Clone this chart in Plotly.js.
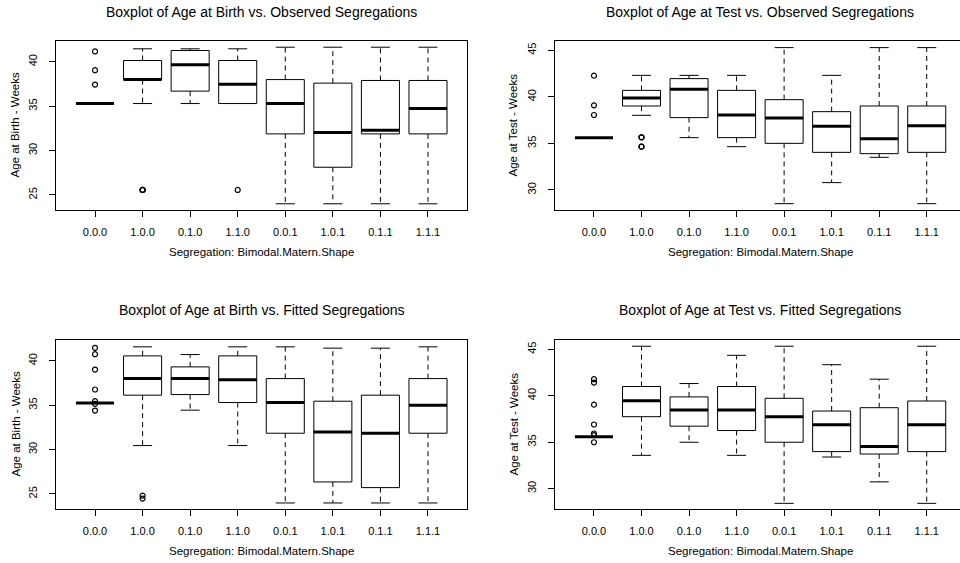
<!DOCTYPE html>
<html>
<head>
<meta charset="utf-8">
<script src="https://cdn.plot.ly/plotly-3.0.1.min.js"></script>
<style>html,body{margin:0;padding:0;background:#fff;}#chart{width:960px;height:563px;}</style>
</head>
<body>
<div id="chart"></div>
<script>
// ---------- data ----------
const categories = ['0.0.0','1.0.0','0.1.0','1.1.0','0.0.1','1.0.1','0.1.1','1.1.1'];

const titles = [
  'Boxplot of Age at Birth vs. Observed Segregations',
  'Boxplot of Age at Test vs. Observed Segregations',
  'Boxplot of Age at Birth vs. Fitted Segregations',
  'Boxplot of Age at Test vs. Fitted Segregations'
];
const xTitle = 'Segregation: Bimodal.Matern.Shape';
const yTitles = ['Age at Birth - Weeks','Age at Test - Weeks','Age at Birth - Weeks','Age at Test - Weeks'];

// Panel 1: Age at Birth vs Observed
const birthObsLower  = [35.30, 35.30, 35.30, 35.30, 24.00, 24.00, 24.00, 24.00];
const birthObsQ1     = [35.30, 38.00, 36.70, 35.30, 31.88, 28.12, 31.88, 31.88];
const birthObsMedian = [35.30, 38.00, 39.66, 37.48, 35.30, 32.03, 32.30, 34.74];
const birthObsQ3     = [35.30, 40.15, 41.28, 40.15, 38.00, 37.60, 37.90, 37.90];
const birthObsUpper  = [35.30, 41.47, 41.47, 41.47, 41.65, 41.65, 41.65, 41.65];
const birthObsOutCat = ['0.0.0','0.0.0','0.0.0','1.0.0','1.0.0','1.0.0','1.1.0'];
const birthObsOutVal = [41.17, 39.06, 37.44, 25.56, 25.56, 25.56, 25.56];

// Panel 2: Age at Test vs Observed
const testObsLower  = [35.62, 38.02, 35.62, 34.65, 28.53, 30.79, 33.51, 28.53];
const testObsQ1     = [35.62, 39.02, 37.77, 35.62, 35.01, 34.04, 33.90, 34.04];
const testObsMedian = [35.62, 39.88, 40.81, 38.05, 37.73, 36.84, 35.51, 36.91];
const testObsQ3     = [35.62, 40.70, 41.96, 40.70, 39.70, 38.41, 39.02, 39.02];
const testObsUpper  = [35.62, 42.31, 42.31, 42.31, 45.29, 42.31, 45.29, 45.29];
const testObsOutCat = ['0.0.0','0.0.0','0.0.0','1.0.0','1.0.0','1.0.0','1.0.0'];
const testObsOutVal = [42.28, 39.09, 38.05, 35.66, 35.66, 34.65, 34.65];

// Panel 3: Age at Birth vs Fitted
const birthFitLower  = [35.26, 30.45, 34.44, 30.45, 23.98, 23.98, 23.98, 23.98];
const birthFitQ1     = [35.26, 36.13, 36.20, 35.30, 31.84, 26.35, 25.71, 31.84];
const birthFitMedian = [35.26, 38.00, 38.00, 37.86, 35.30, 31.99, 31.84, 35.00];
const birthFitQ3     = [35.26, 40.56, 39.32, 40.56, 38.00, 35.45, 36.13, 38.00];
const birthFitUpper  = [35.26, 41.58, 40.71, 41.58, 41.58, 41.43, 41.43, 41.58];
const birthFitOutCat = ['0.0.0','0.0.0','0.0.0','0.0.0','0.0.0','0.0.0','0.0.0','1.0.0','1.0.0'];
const birthFitOutVal = [41.47, 40.75, 39.02, 36.77, 35.45, 35.15, 34.40, 24.81, 24.47];

// Panel 4: Age at Test vs Fitted
const testFitLower  = [35.57, 33.58, 34.99, 33.58, 28.41, 33.40, 30.72, 28.41];
const testFitQ1     = [35.57, 37.74, 36.72, 36.25, 34.99, 33.98, 33.72, 33.98];
const testFitMedian = [35.57, 39.47, 38.46, 38.46, 37.74, 36.87, 34.52, 36.87];
const testFitQ3     = [35.57, 40.99, 39.87, 40.99, 39.72, 38.35, 38.71, 39.43];
const testFitUpper  = [35.57, 45.33, 41.31, 44.35, 45.33, 43.34, 41.78, 45.33];
const testFitOutCat = ['0.0.0','0.0.0','0.0.0','0.0.0','0.0.0','0.0.0','0.0.0'];
const testFitOutVal = [41.78, 41.42, 39.04, 36.90, 35.93, 35.75, 34.99];

const birthTicks = [25, 30, 35, 40];
const testTicks  = [30, 35, 40, 45];

// ---------- build ----------
const FONT = 'Liberation Sans, Arial, Helvetica, sans-serif';
const BOXW = 0.8, CAPW = 0.4;
const pos = categories.map((_, i) => i + 1);
const catPos = c => categories.indexOf(c) + 1;

const panels = [
  {lo: birthObsLower, q1: birthObsQ1, med: birthObsMedian, q3: birthObsQ3, up: birthObsUpper, oc: birthObsOutCat, ov: birthObsOutVal},
  {lo: testObsLower,  q1: testObsQ1,  med: testObsMedian,  q3: testObsQ3,  up: testObsUpper,  oc: testObsOutCat,  ov: testObsOutVal},
  {lo: birthFitLower, q1: birthFitQ1, med: birthFitMedian, q3: birthFitQ3, up: birthFitUpper, oc: birthFitOutCat, ov: birthFitOutVal},
  {lo: testFitLower,  q1: testFitQ1,  med: testFitMedian,  q3: testFitQ3,  up: testFitUpper,  oc: testFitOutCat,  ov: testFitOutVal}
];

const traces = [];
panels.forEach((p, k) => {
  const xa = k === 0 ? 'x' : 'x' + (k + 1);
  const ya = k === 0 ? 'y' : 'y' + (k + 1);
  traces.push({
    type: 'box', xaxis: xa, yaxis: ya, x: pos,
    q1: p.q1, median: p.med, q3: p.q3, lowerfence: p.q1, upperfence: p.q3,
    width: BOXW, whiskerwidth: 0, boxpoints: false,
    line: {color: '#000', width: 1}, fillcolor: 'rgba(255,255,255,0)',
    hoverinfo: 'skip', showlegend: false
  });
  const wx = [], wy = [], cx = [], cy = [], mx = [], my = [];
  pos.forEach((x, i) => {
    wx.push(x, x, null, x, x, null);
    wy.push(p.q3[i], p.up[i], null, p.q1[i], p.lo[i], null);
    if (p.up[i] > p.q3[i]) { cx.push(x - CAPW / 2, x + CAPW / 2, null); cy.push(p.up[i], p.up[i], null); }
    if (p.lo[i] < p.q1[i]) { cx.push(x - CAPW / 2, x + CAPW / 2, null); cy.push(p.lo[i], p.lo[i], null); }
    mx.push(x - BOXW / 2, x + BOXW / 2, null);
    my.push(p.med[i], p.med[i], null);
  });
  traces.push({type: 'scatter', mode: 'lines', xaxis: xa, yaxis: ya, x: wx, y: wy,
    line: {color: '#000', width: 1, dash: '5px,4px'}, hoverinfo: 'skip', showlegend: false});
  traces.push({type: 'scatter', mode: 'lines', xaxis: xa, yaxis: ya, x: cx, y: cy,
    line: {color: '#000', width: 1}, hoverinfo: 'skip', showlegend: false});
  traces.push({type: 'scatter', mode: 'lines', xaxis: xa, yaxis: ya, x: mx, y: my,
    line: {color: '#000', width: 3}, hoverinfo: 'skip', showlegend: false});
  traces.push({type: 'scatter', mode: 'markers', xaxis: xa, yaxis: ya,
    x: p.oc.map(catPos), y: p.ov,
    marker: {symbol: 'circle-open', size: 5, color: '#000', line: {width: 1.2, color: '#000'}},
    hoverinfo: 'skip', showlegend: false});
});

const W = 960, H = 563;
const px = v => v / W, py = v => 1 - v / H;
const leftX = [56, 467], rightX = [555, 960];
const topY = [41, 210], botY = [340, 509];

function xAxis(domain, range, anchor) {
  return {
    domain: [px(domain[0]), px(domain[1])], range: range, anchor: anchor,
    tickmode: 'array', tickvals: pos, ticktext: categories,
    showline: true, mirror: true, linecolor: '#000', linewidth: 1,
    ticks: 'outside', ticklen: 6, tickcolor: '#000', tickwidth: 1,
    ticklabelstandoff: 6,
    showgrid: false, zeroline: false,
    tickfont: {family: FONT, size: 11, color: '#000'}, fixedrange: true
  };
}
function yAxis(domain, range, ticks, anchor) {
  return {
    domain: [py(domain[1]), py(domain[0])], range: range, anchor: anchor,
    tickmode: 'array', tickvals: ticks, tickangle: -90,
    showline: true, mirror: true, linecolor: '#000', linewidth: 1,
    ticks: 'outside', ticklen: 6, tickcolor: '#000', tickwidth: 1,
    ticklabelstandoff: 8,
    showgrid: false, zeroline: false,
    tickfont: {family: FONT, size: 11, color: '#000'}, fixedrange: true
  };
}

const ann = [];
function addText(text, x, y, size, angle) {
  ann.push({text: text, xref: 'paper', yref: 'paper', x: px(x), y: py(y),
    xanchor: 'center', yanchor: 'middle', showarrow: false, textangle: angle || 0,
    font: {family: FONT, size: size, color: '#000'}});
}
// panel titles and axis titles
const cxL = (56 + 467) / 2, cxR = 760;
addText(titles[0], cxL, 12, 14);
addText(titles[1], cxR, 12, 14);
addText(titles[2], cxL, 310, 14);
addText(titles[3], cxR, 310, 14);
addText(xTitle, cxL, 252, 11.5);
addText(xTitle, cxR, 252, 11.5);
addText(xTitle, cxL, 551, 11.5);
addText(xTitle, cxR, 551, 11.5);
addText(yTitles[0], 15, 125.5, 11.5, -90);
addText(yTitles[1], 513, 125.5, 11.5, -90);
addText(yTitles[2], 15, 424.5, 11.5, -90);
addText(yTitles[3], 513, 424.5, 11.5, -90);

const layout = {
  width: W, height: H,
  margin: {l: 0, r: 0, t: 0, b: 0, pad: 0},
  paper_bgcolor: '#fff', plot_bgcolor: '#fff',
  showlegend: false,
  font: {family: FONT, size: 11, color: '#000'},
  xaxis:  xAxis(leftX,  [0.18, 8.82], 'y'),
  yaxis:  yAxis(topY,  [23.3, 42.35], birthTicks, 'x'),
  xaxis2: xAxis(rightX, [0.18, 8.70], 'y2'),
  yaxis2: yAxis(topY,  [27.85, 46.0], testTicks, 'x2'),
  xaxis3: xAxis(leftX,  [0.18, 8.82], 'y3'),
  yaxis3: yAxis(botY,  [23.3, 42.35], birthTicks, 'x3'),
  xaxis4: xAxis(rightX, [0.18, 8.70], 'y4'),
  yaxis4: yAxis(botY,  [27.8, 46.0], testTicks, 'x4'),
  annotations: ann
};

Plotly.newPlot('chart', traces, layout, {staticPlot: true, displayModeBar: false});
</script>
</body>
</html>
